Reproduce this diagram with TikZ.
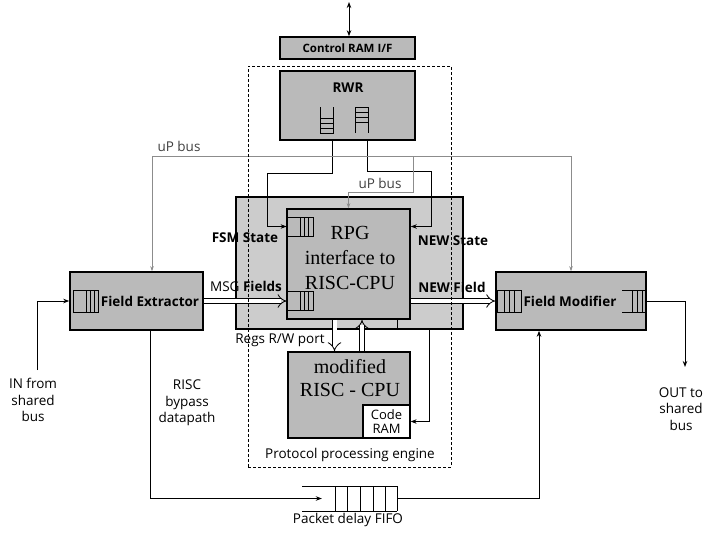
\documentclass[tikz,border=0pt]{standalone}
\usepackage{fontspec}
\setmainfont{Liberation Serif}
\setsansfont{Open Sans}
\usetikzlibrary{arrows.meta}
\begin{document}
\begin{tikzpicture}[x=1pt,y=-1pt,
  box/.style={draw, line width=1.6pt, fill=black!27, inner sep=0pt},
  lbl/.style={font=\sffamily\fontsize{13.5}{16.5}\selectfont, inner sep=0pt, align=center},
  blbl/.style={font=\sffamily\bfseries\fontsize{13.5}{16}\selectfont, inner sep=0pt, align=center},
  serifbig/.style={font=\fontsize{20}{25}\selectfont, inner sep=0pt, align=center},
  arr/.style={-{Stealth[length=6pt,width=4.5pt]}, line width=0.9pt},
  busline/.style={line width=0.6pt, draw=black!45},
  bustip/.tip={Stealth[length=5pt,width=3.5pt]},
  bigtip/.tip={Stealth[length=6pt,width=4.5pt]},
  dbl/.style={double, double distance=4pt, line width=0.8pt, -{Implies}},
  fifobox/.style={draw, line width=0.8pt, inner sep=0pt},
  fifoline/.style={line width=0.8pt},
]
\useasboundingbox[fill=white] (0,0) rectangle (708,533);

% boxes
\node[box, font=\sffamily\bfseries\fontsize{11.5}{13}\selectfont, minimum width=135pt, minimum height=22pt] (ctrl) at (347.5,48) {Control RAM I/F};
\node[box, minimum width=135pt, minimum height=69pt] (rwr) at (347.5,105.5) {};
\node[blbl] (rwrlbl) at (348,88) {RWR};
% RWR fifo icons
\draw[fifoline] (320,107) -- (320,133) -- (333,133) -- (333,107);
\foreach \yy in {118,123,128} \draw[fifoline] (320,\yy) -- (333,\yy);
\draw[fifoline] (355,133) -- (355,107) -- (368,107) -- (368,133);
\foreach \yy in {112,117,122} \draw[fifoline] (355,\yy) -- (368,\yy);

\node[box, fill=black!20, minimum width=227pt, minimum height=132pt] (outer) at (349.5,263) {};
\node[box, minimum width=123pt, minimum height=110pt] (rpg) at (348.5,264) {};
\node[serifbig] (rpgtxt) at (350,257.5) {RPG\\interface to\\RISC-CPU};
\node[fifobox, minimum width=26pt, minimum height=19pt] (fifoA) at (300,226.5) {};
\node[fifobox, minimum width=26pt, minimum height=19pt] (fifoB) at (300,300.5) {};
\foreach \xx in {300,304,308} {
  \draw[fifoline] (\xx,217) -- (\xx,236);
  \draw[fifoline] (\xx,291) -- (\xx,310);
}

\node[box, minimum width=122pt, minimum height=86pt] (cpu) at (349,395) {};
\node[serifbig, font=\fontsize{20}{23}\selectfont] (cputxt) at (350,378.5) {modified\\RISC - CPU};
\node[draw, line width=1.2pt, fill=white, minimum width=47pt, minimum height=33pt, inner sep=0pt, align=center, font=\sffamily\fontsize{13}{14}\selectfont] (code) at (386.5,421.5) {Code\\RAM};

\node[box, minimum width=133pt, minimum height=58pt] (fe) at (136.5,301) {};
\node[blbl] (fetxt) at (150,301) {Field Extractor};
\node[fifobox, minimum width=25pt, minimum height=22pt] (fifoC) at (85.5,301) {};
\foreach \xx in {86,90,94} \draw[fifoline] (\xx,290) -- (\xx,312);

\node[box, minimum width=150pt, minimum height=58pt] (fm) at (571,301) {};
\node[blbl] (fmtxt) at (570,301) {Field Modifier};
\node[fifobox, minimum width=24pt, minimum height=22pt] (fifoD) at (509,301) {};
\foreach \xx in {504,509,514} \draw[fifoline] (\xx,290) -- (\xx,312);
\draw[fifoline] (622,290) -- (646,290) (622,312) -- (646,312);
\foreach \xx in {632,637,642} \draw[fifoline] (\xx,290) -- (\xx,312);

% packet delay fifo
\node[inner sep=0pt, minimum width=95pt, minimum height=25pt] (delay) at (349.5,498.5) {};
\draw[fifoline] (302,486) -- (397,486) (302,511) -- (397,511);
\foreach \xx in {335,347,360,373,385,397} \draw[fifoline] (\xx,486) -- (\xx,511);

% coordinates
\coordinate (ext) at (349,2);
\coordinate (inS) at (37,370);
\coordinate (outE) at (685,367);
\coordinate (busJ) at (413,157);

% connectors
\draw[{bigtip}-{bigtip}, line width=0.9pt] (ext |- ctrl.north) -- (ext);
\draw[arr] ([xshift=-15.5pt]rwr.south) -- ++(0,33) -- ++(-65,0) |- (fifoA.west);
\draw[arr] ([xshift=19.5pt]rwr.south) -- ++(0,31) -- ++(64,0) |- (fifoA -| rpg.east);
\draw[busline, {bustip}-{bustip}] ([xshift=15.5pt]fe.north) -- ++(0,-115) -| (fm.north);
\draw[busline, -{bustip}] (busJ) -- ++(0,35) -| (rpg.north);
\draw[arr] (inS) |- (fe.west);
\draw[arr] (fm.east) -| (outE);
\draw[dbl] (fe.east) -- (fe.east -| fifoB.west);
\draw[dbl] (fm.west -| rpg.east) -- (fm.west);
\draw[dbl] ([xshift=-14pt]rpg.south) -- ([xshift=-14pt]rpg.south |- cpu.north);
\draw[dbl] ([xshift=13pt]cpu.north) -- ([xshift=13pt]cpu.north |- rpg.south);
\draw[arr] ([xshift=48.5pt]rpg.south) -- ([xshift=48.5pt]rpg.south |- outer.south) -- ([xshift=79.5pt]outer.south) |- (code.east);
\draw[arr] ([xshift=13.5pt]fe.south) |- ([xshift=20pt]delay.west);
\draw[arr] (delay.east) -| ([xshift=-32pt]fm.south);

% dashed engine boundary
\node[draw, dashed, dash pattern=on 3pt off 2pt, line width=0.9pt, minimum width=203pt, minimum height=401pt, inner sep=0pt] (ppe) at (349.5,266.5) {};

% labels
\node[lbl, text=black!75] (bus1) at (179,146) {uP bus};
\node[lbl, text=black!75] (bus2) at (380,183) {uP bus};
\node[blbl] (fsm) at (245,238) {FSM State};
\node[blbl] (nst) at (453,241) {NEW State};
\node[blbl] (msg) at (246,286) {\mdseries MSG \bfseries Fields};
\node[blbl] (nfd) at (452,287) {NEW Field};
\node[lbl] (regs) at (280,340) {Regs R/W port};
\node[lbl] (inl) at (33,400) {IN from\\shared\\bus};
\node[lbl] (byp) at (187,403) {RISC\\bypass\\datapath};
\node[lbl] (outl) at (681,409) {OUT to\\shared\\bus};
\node[lbl] (pdf) at (348,520) {Packet delay FIFO};
\node[lbl] (ppelbl) at (350,455) {Protocol processing engine};
\end{tikzpicture}
\end{document}
